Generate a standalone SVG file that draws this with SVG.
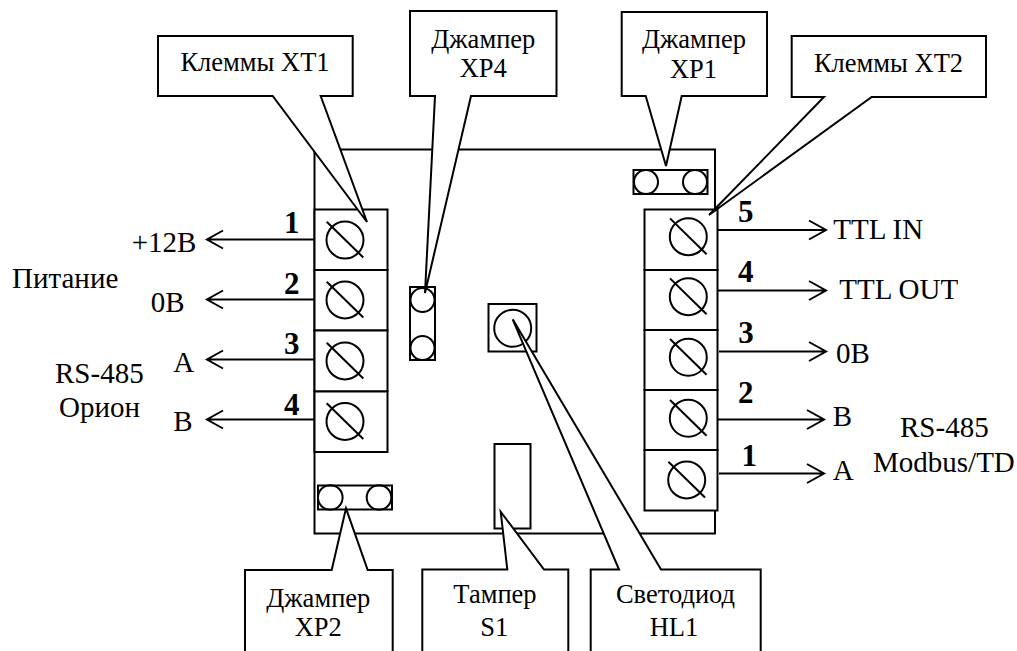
<svg xmlns="http://www.w3.org/2000/svg" width="1017" height="651" viewBox="0 0 1017 651">
<style>
.s{fill:none;stroke:#000;stroke-width:2}
.w{fill:#fff;stroke:#000;stroke-width:2;stroke-linejoin:miter}
.c{fill:none;stroke:#000;stroke-width:2}
text{font-family:"Liberation Serif","Times New Roman",serif;font-size:26.5px;fill:#000}
.m{text-anchor:middle}
.l{font-size:29px}
.n{font-size:31px;font-weight:bold;text-anchor:middle}
</style>
<defs>
<g id="screw"><circle r="18.5" class="s"/><path d="M-18.3-18.3L18.3 17.5" class="s"/></g>
</defs>
<rect width="1017" height="651" fill="#fff"/>
<g id="board"><rect x="314.5" y="149.5" width="400.5" height="384" class="s"/></g>
<g id="xt1">
<rect x="314.5" y="209.5" width="73" height="60.5" class="w"/><rect x="314.5" y="270" width="73" height="60.5" class="w"/><rect x="314.5" y="330.5" width="73" height="61" class="w"/><rect x="314.5" y="391.5" width="73" height="60.5" class="w"/>
<use href="#screw" x="345" y="240"/><use href="#screw" x="345" y="300"/><use href="#screw" x="345" y="361"/><use href="#screw" x="345" y="421.5"/>
</g>
<g id="xt2">
<rect x="644.5" y="209.5" width="73" height="60.5" class="w"/><rect x="644.5" y="270" width="73" height="60" class="w"/><rect x="644.5" y="330" width="73" height="60" class="w"/><rect x="644.5" y="390" width="73" height="60" class="w"/><rect x="644.5" y="450" width="73" height="60.5" class="w"/>
<use href="#screw" x="688.3" y="236.7"/><use href="#screw" x="688.3" y="296.7"/><use href="#screw" x="688.3" y="357.3"/><use href="#screw" x="688.3" y="418.3"/><use href="#screw" x="686.7" y="480"/>
</g>
<g id="xp1"><rect x="633.5" y="170" width="74" height="24" class="w"/><circle cx="646" cy="182" r="12" class="s"/><circle cx="695" cy="182" r="12" class="s"/></g>
<g id="xp4"><rect x="410" y="287" width="25" height="73" class="w"/><circle cx="422.5" cy="300" r="12" class="s"/><circle cx="422.5" cy="348" r="12" class="s"/></g>
<g id="xp2"><rect x="318" y="485.5" width="74" height="24" class="w"/><circle cx="330.3" cy="497.5" r="12.3" class="s"/><circle cx="379" cy="497.5" r="12.3" class="s"/></g>
<g id="hl1"><rect x="488.5" y="304" width="48" height="47.5" class="w"/><circle cx="512.7" cy="328.3" r="18.5" class="s"/></g>
<g id="s1"><rect x="494.5" y="444" width="36" height="84.5" class="w"/></g>
<g id="connectors">
<path class="c" d="M314 239.5H207M223 230.5L207 239.5L223 248.5"/>
<path class="c" d="M314 299.5H207M223 290.5L207 299.5L223 308.5"/>
<path class="c" d="M314 359.5H207M223 350.5L207 359.5L223 368.5"/>
<path class="c" d="M314 419.5H207M223 410.5L207 419.5L223 428.5"/>
<path class="c" d="M718 230H826M809 220.5L826 230L809 239.5"/>
<path class="c" d="M718 290.5H826M809 281L826 290.5L809 300"/>
<path class="c" d="M719 351.5H826M809 342L826 351.5L809 361"/>
<path class="c" d="M717 419.5H824M807 410L824 419.5L807 429"/>
<path class="c" d="M719 473.5H824M807 464L824 473.5L807 483"/>
</g>
<g id="callout-xt1"><path class="w" d="M158 36H352.7V96H320.7L367 222L272.7 96H158Z"/><text x="255" y="71" class="m">Клеммы ХТ1</text></g>
<g id="callout-xp4"><path class="w" d="M410 11H556.5V96H471L425 293L435 96H410Z"/><text x="483.3" y="48" class="m">Джампер</text><text x="483.3" y="77" class="m">ХР4</text></g>
<g id="callout-xp1"><path class="w" d="M621.7 12H767V96H681.7L666 166L645.7 96H621.7Z"/><text x="694" y="48" class="m">Джампер</text><text x="693.5" y="78" class="m">ХР1</text></g>
<g id="callout-xt2"><path class="w" d="M791.7 36H986V97H871.7L709 215L824 97H791.7Z"/><text x="888.5" y="71.5" class="m">Клеммы ХТ2</text></g>
<g id="callout-xp2"><path class="w" d="M245 655V570H331.7L346 508.3L367.7 570H392.7V655"/><text x="318.3" y="607.3" class="m">Джампер</text><text x="318.3" y="635.7" class="m">ХР2</text></g>
<g id="callout-s1"><path class="w" d="M422.3 655V569.5H507.3L500.7 511.7L544 569.5H568.3V655"/><text x="495" y="603.3" class="m">Тампер</text><text x="494.3" y="636" class="m">S1</text></g>
<g id="callout-hl1"><path class="w" d="M590.7 655V569.5H619L512.7 319.3L661 569.5H760.7V655"/><text x="675.5" y="603.3" class="m">Светодиод</text><text x="674" y="636" class="m">HL1</text></g>
<g id="labels">
<text x="291.7" y="233" class="n">1</text><text x="291.7" y="294.3" class="n">2</text><text x="291.7" y="354.3" class="n">3</text><text x="291.7" y="415" class="n">4</text>
<text x="745.7" y="221.7" class="n">5</text><text x="745.7" y="281.7" class="n">4</text><text x="746" y="342.7" class="n">3</text><text x="745.7" y="403.3" class="n">2</text><text x="749.3" y="465.7" class="n">1</text>
<text x="131.7" y="251.7" class="l">+12В</text><text x="150.7" y="311.7" class="l">0В</text><text x="173.3" y="371.7" class="l">А</text><text x="173.3" y="431" class="l">В</text>
<text x="12" y="288.3" class="l">Питание</text><text x="55" y="383.3" class="l">RS-485</text><text x="59" y="416.7" class="l">Орион</text>
<text x="833.3" y="239" class="l">TTL IN</text><text x="839.3" y="299.3" class="l">TTL OUT</text><text x="836" y="362.7" class="l">0В</text><text x="832.7" y="425.7" class="l">В</text><text x="832.7" y="480" class="l">А</text>
<text x="900" y="437.3" class="l">RS-485</text><text x="873" y="471.7" class="l">Modbus/TD</text>
</g>
</svg>
